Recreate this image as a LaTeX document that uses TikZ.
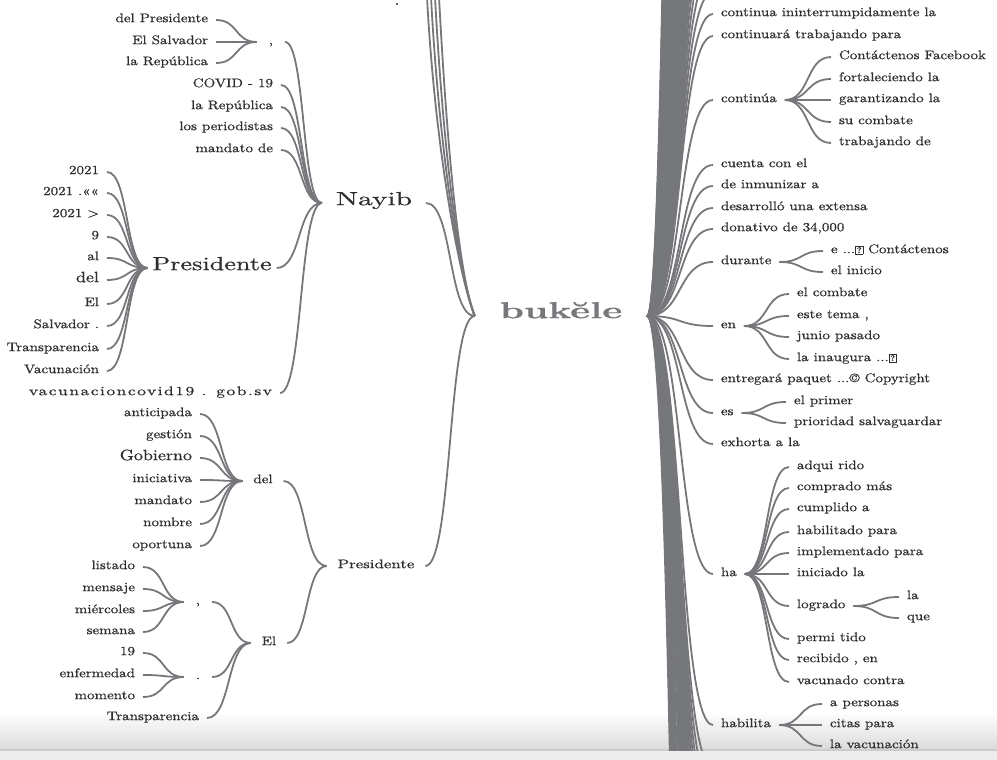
\documentclass[tikz,border=0pt]{standalone}
\usepackage{fontspec}
\setmainfont{lmroman10-regular}[Extension=.otf, BoldFont=lmroman10-bold, FakeStretch=1.2, FakeBold=0.8]
\newfontfamily\fNayib{lmroman10-regular}[Extension=.otf, FakeStretch=1.55, FakeBold=0.6]
\newfontfamily\fPresA{lmroman10-regular}[Extension=.otf, FakeStretch=1.38, FakeBold=0.6]
\newfontfamily\fPresB{lmroman10-regular}[Extension=.otf, FakeStretch=1.35, FakeBold=0.8]
\newfontfamily\fBuk{lmroman10-bold}[Extension=.otf, FakeStretch=1.65, FakeBold=0.5]
\newfontfamily\fVac{lmroman10-regular}[Extension=.otf, FakeStretch=1.4, LetterSpace=12, FakeBold=0.8]
\usetikzlibrary{calc}
\definecolor{lnc}{HTML}{76777B}
\definecolor{txt}{HTML}{2E2E2E}
\definecolor{bkc}{HTML}{78787C}
\setlength{\fboxsep}{0.8pt}
\setlength{\fboxrule}{0.6pt}
\newcommand{\qbx}{\raisebox{0.3pt}{\fbox{\fontsize{8}{8}\selectfont\bfseries ?}}}
\tikzset{
  w/.style={inner sep=0pt, outer xsep=8pt, outer ysep=0pt, text=txt, font=\fontsize{12.5}{14}\selectfont},
  lw/.style={w, anchor=mid east},
  rw/.style={w, anchor=mid west},
  hw/.style={w, anchor=mid},
  big/.style={font=\fontsize{15}{16}\selectfont},
  ln/.style={line width=1.8pt, draw=lnc},
  wt/.style={to path={let \p1=(\tikztostart), \p2=(\tikztotarget), \n1={0.55*(\x2-\x1)}, \n2={-0.55*(\x2-\x1)} in .. controls +(\n1,0) and +(\n2,0) .. (\tikztotarget) \tikztonodes}}
}
\begin{document}
\begin{tikzpicture}[x=1pt,y=-1pt]
\useasboundingbox (0,0) rectangle (997,760);
% bottom band
\shade[top color=white, bottom color=black!14] (0,712) rectangle (997,749);
\fill[black!20] (0,749) rectangle (997,751);
\fill[black!7] (0,751) rectangle (997,760);

% ---------- centre ----------
\node[hw, text=bkc, font=\fBuk\fontsize{23}{26}\selectfont, outer xsep=25pt] (bk) at (561,316) {bukĕle};

% ---------- left upper ----------
\node[lw] (a1) at (216,20) {del Presidente};
\node[lw] (a2) at (216,42) {El Salvador};
\node[lw] (a3) at (216,63) {la República};
\node[hw, outer xsep=12pt] (c1) at (271,42) {,};
\node[lw] (n2) at (281,85) {COVID - 19};
\node[lw] (n3) at (281,107) {la República};
\node[lw] (n4) at (281,128) {los periodistas};
\node[lw] (n5) at (281,150) {mandato de};
\node[hw, font=\fNayib\fontsize{19}{22}\selectfont, outer xsep=14pt] (nay) at (374,203) {Nayib};
\node[hw, font=\fPresA\fontsize{19}{22}\selectfont, outer xsep=5pt] (pA) at (212,268) {Presidente};
\node[lw, font=\fVac\fontsize{12.5}{14}\selectfont] (n7) at (280,393) {vacunacioncovid19 . gob.sv};

\node[lw] (p1) at (107,172) {2021};
\node[lw] (p2) at (107,193) {2021 .««};
\node[lw] (p3) at (107,215) {2021 >};
\node[lw] (p4) at (107,237) {9};
\node[lw] (p5) at (107,258) {al};
\node[lw, big] (p6) at (107,280) {del};
\node[lw] (p7) at (107,304) {El};
\node[lw] (p8) at (107,326) {Salvador .};
\node[lw] (p9) at (107,349) {Transparencia};
\node[lw] (p10) at (107,371) {Vacunación};

\fill[txt] (397,4) circle (1.2);

% ---------- left lower ----------
\node[lw] (d1) at (200,414) {anticipada};
\node[lw] (d2) at (200,436) {gestión};
\node[lw, big] (d3) at (200,458) {Gobierno};
\node[lw] (d4) at (200,480) {iniciativa};
\node[lw] (d5) at (200,502) {mandato};
\node[lw] (d6) at (200,524) {nombre};
\node[lw] (d7) at (200,546) {oportuna};
\node[hw, outer xsep=11pt] (del) at (263,481) {del};

\node[lw] (e1) at (143,567) {listado};
\node[lw] (e2) at (143,589) {mensaje};
\node[lw] (e3) at (143,611) {miércoles};
\node[lw] (e4) at (143,632) {semana};
\node[lw] (f1) at (143,653) {19};
\node[lw] (f2) at (143,675) {enfermedad};
\node[lw] (f3) at (143,697) {momento};
\node[hw, outer xsep=12pt] (c2) at (198,602) {,};
\node[hw, outer xsep=12pt] (pt) at (198,677) {.};
\node[lw] (tr) at (207,718) {Transparencia};
\node[hw, outer xsep=11pt] (el) at (269,643) {El};
\node[hw, font=\fPresB\fontsize{12.5}{14}\selectfont, outer xsep=11pt] (pB) at (376,566) {Presidente};

% ---------- right ----------
\node[rw] (r1) at (713,14) {continua ininterrumpidamente la};
\node[rw] (r2) at (713,36) {continuará trabajando para};
\node[rw] (r3) at (713,100) {continúa};
\node[rw] (r3a) at (831,57) {Contáctenos Facebook};
\node[rw] (r3b) at (831,79) {fortaleciendo la};
\node[rw] (r3c) at (831,100) {garantizando la};
\node[rw] (r3d) at (831,122) {su combate};
\node[rw] (r3e) at (831,143) {trabajando de};
\node[rw] (r4) at (713,165) {cuenta con el};
\node[rw] (r5) at (713,186) {de inmunizar a};
\node[rw] (r6) at (713,208) {desarrolló una extensa};
\node[rw] (r7) at (713,229) {donativo de 34,000};
\node[rw] (r8) at (713,262) {durante};
\node[rw] (r8a) at (823,251) {e ...\qbx{} Contáctenos};
\node[rw] (r8b) at (823,272) {el inicio};
\node[rw] (r9) at (713,326) {en};
\node[rw] (r9a) at (789,294) {el combate};
\node[rw] (r9b) at (789,316) {este tema ,};
\node[rw] (r9c) at (789,337) {junio pasado};
\node[rw] (r9d) at (789,359) {la inaugura ...\qbx};
\node[rw] (r10) at (713,380) {entregará paquet ...© Copyright};
\node[rw] (r11) at (713,413) {es};
\node[rw] (r11a) at (786,402) {el primer};
\node[rw] (r11b) at (786,423) {prioridad salvaguardar};
\node[rw] (r12) at (713,444) {exhorta a la};
\node[rw] (r13) at (713,574) {ha};
\node[rw] (h1) at (789,467) {adqui rido};
\node[rw] (h2) at (789,488) {comprado más};
\node[rw] (h3) at (789,509) {cumplido a};
\node[rw] (h4) at (789,532) {habilitado para};
\node[rw] (h5) at (789,553) {implementado para};
\node[rw] (h6) at (789,574) {iniciado la};
\node[rw] (h7) at (789,606) {logrado};
\node[rw] (h7a) at (899,597) {la};
\node[rw] (h7b) at (899,618) {que};
\node[rw] (h8) at (789,639) {permi tido};
\node[rw] (h9) at (789,660) {recibido , en};
\node[rw] (h10) at (789,682) {vacunado contra};
\node[rw] (r14) at (713,725) {habilita};
\node[rw] (r14a) at (822,704) {a personas};
\node[rw] (r14b) at (822,725) {citas para};
\node[rw] (r14c) at (822,746) {la vacunación};

% ---------- connectors ----------
\begin{scope}
\clip (0,0) rectangle (997,750);
% left upper
\foreach \c in {a1,a2,a3} \draw[ln] (\c.mid east) to[wt] (c1.mid west);
\foreach \c in {c1,n2,n3,n4,n5,pA,n7} \draw[ln] (\c.mid east) to[wt] (nay.mid west);
\foreach \c in {p1,p2,p3,p4,p5,p6,p7,p8,p9,p10} \draw[ln] (\c.mid east) to[wt] (pA.mid west);
\draw[ln] (nay.mid east) to[wt] (bk.mid west);
% off-picture branches on the left
\foreach \i/\xx in {1/427,2/431,3/435,4/439} {
  \coordinate (tl\i) at (\xx,-3);
  \draw[ln] (tl\i) .. controls +(8,150) and +(-16,-40) .. (bk.mid west);
}
% left lower
\foreach \c in {d1,d2,d3,d4,d5,d6,d7} \draw[ln] (\c.mid east) to[wt] (del.mid west);
\foreach \c in {e1,e2,e3,e4} \draw[ln] (\c.mid east) to[wt] (c2.mid west);
\foreach \c in {f1,f2,f3} \draw[ln] (\c.mid east) to[wt] (pt.mid west);
\foreach \c in {c2,pt,tr} \draw[ln] (\c.mid east) to[wt] (el.mid west);
\draw[ln] (del.mid east) to[wt] (pB.mid west);
\draw[ln] (el.mid east) to[wt] (pB.mid west);
\draw[ln] (pB.mid east) to[wt] (bk.mid west);
% right
\foreach \c in {r1,r2,r3,r4,r5,r6,r7,r8,r9,r10,r11,r12,r13,r14} \draw[ln] (bk.mid east) to[wt] (\c.mid west);
\foreach \c in {r3a,r3b,r3c,r3d,r3e} \draw[ln] (r3.mid east) to[wt] (\c.mid west);
\foreach \c in {r8a,r8b} \draw[ln] (r8.mid east) to[wt] (\c.mid west);
\foreach \c in {r9a,r9b,r9c,r9d} \draw[ln] (r9.mid east) to[wt] (\c.mid west);
\foreach \c in {r11a,r11b} \draw[ln] (r11.mid east) to[wt] (\c.mid west);
\foreach \c in {h1,h2,h3,h4,h5,h6,h7,h8,h9,h10} \draw[ln] (r13.mid east) to[wt] (\c.mid west);
\foreach \c in {h7a,h7b} \draw[ln] (h7.mid east) to[wt] (\c.mid west);
\foreach \c in {r14a,r14b,r14c} \draw[ln] (r14.mid east) to[wt] (\c.mid west);
% off-picture branches on the right
\foreach \k in {0,...,40} {
  \coordinate (up\k) at (713,{-8-21.5*\k});
  \draw[ln] (bk.mid east) to[wt] (up\k);
}
\foreach \k in {1,...,16} {
  \coordinate (uf\k) at (713,{-870-190*\k});
  \draw[ln] (bk.mid east) to[wt] (uf\k);
}
\foreach \k in {0,...,25} {
  \coordinate (dn\k) at (713,{768+21.5*\k});
  \draw[ln] (bk.mid east) to[wt] (dn\k);
}
\foreach \k in {1,...,8} {
  \coordinate (df\k) at (713,{1305+150*\k});
  \draw[ln] (bk.mid east) to[wt] (df\k);
}
\end{scope}
\end{tikzpicture}
\end{document}
